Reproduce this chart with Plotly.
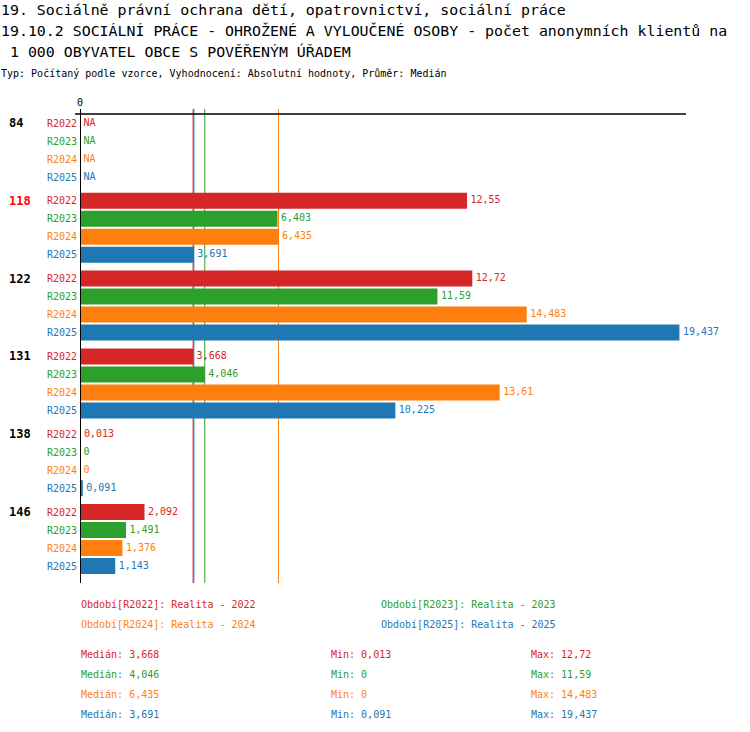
import plotly.graph_objects as go

groups = ["84", "118", "122", "131", "138", "146"]
group_colors = ["#000000", "#ff0000", "#000000", "#000000", "#000000", "#000000"]
periods = ["R2022", "R2023", "R2024", "R2025"]
period_names = ["Realita - 2022", "Realita - 2023", "Realita - 2024", "Realita - 2025"]
colors = ["#d62728", "#2ca02c", "#ff7f0e", "#1f77b4"]

# one value per group, None = NA
r2022 = [None, 12.55, 12.72, 3.668, 0.013, 2.092]
r2023 = [None, 6.403, 11.59, 4.046, 0, 1.491]
r2024 = [None, 6.435, 14.483, 13.61, 0, 1.376]
r2025 = [None, 3.691, 19.437, 10.225, 0.091, 1.143]
series = [r2022, r2023, r2024, r2025]

medians = [3.668, 4.046, 6.435, 3.691]
mins = [0.013, 0, 0, 0.091]
maxs = [12.72, 11.59, 14.483, 19.437]

title_lines = [
    "19. Sociálně právní ochrana dětí, opatrovnictví, sociální práce",
    "19.10.2 SOCIÁLNÍ PRÁCE - OHROŽENÉ A VYLOUČENÉ OSOBY - počet anonymních klientů na",
    " 1 000 OBYVATEL OBCE S POVĚŘENÝM ÚŘADEM",
]
subtitle = "Typ: Počítaný podle vzorce, Vyhodnocení: Absolutní hodnoty, Průměr: Medián"

# page geometry (pixels)
W, H = 750, 732
L, R, T, B = 80, 686, 109, 583
ROW = 18.0
FIRST = 14 / ROW
GSTEP = 77.8 / ROW
MONO = "DejaVu Sans Mono"


def px(x):
    return (x - L) / (R - L)


def py(y):
    return (B - y) / (B - T)


def fmt(v):
    return f"{v:g}".replace(".", ",")


def row_y(g, p):
    return FIRST + g * GSTEP + p


fig = go.Figure()

for p, vals in enumerate(series):
    ys = [row_y(g, p) for g in range(len(groups))]
    fig.add_trace(go.Bar(
        x=vals, y=ys, orientation="h", width=16 / ROW,
        marker=dict(color=colors[p], line=dict(width=0)),
        hoverinfo="skip",
    ))
    # invisible markers only push the value text a few px off the bar end
    fig.add_trace(go.Scatter(
        x=[v if v is not None else 0 for v in vals], y=ys,
        mode="markers+text", marker=dict(size=4, opacity=0),
        text=[fmt(v) if v is not None else "NA" for v in vals],
        textposition="middle right",
        textfont=dict(family=MONO, size=10, color=colors[p]),
        cliponaxis=False, hoverinfo="skip",
    ))

# period labels left of the axis, group labels further left
for g, name in enumerate(groups):
    fig.add_annotation(x=px(7), y=row_y(g, 0), xref="paper", yref="y",
                       text=f"<b>{name}</b>", showarrow=False, xanchor="left",
                       font=dict(family=MONO, size=12, color=group_colors[g]))
    for p, per in enumerate(periods):
        fig.add_annotation(x=0, y=row_y(g, p), xref="x", yref="y", text=per,
                           showarrow=False, xanchor="right", xshift=-1,
                           font=dict(family=MONO, size=10, color=colors[p]))

# median lines, drawn under the bars
for p, m in enumerate(medians):
    fig.add_shape(type="line", xref="x", yref="paper", x0=m, x1=m, y0=0, y1=1,
                  line=dict(color=colors[p], width=1), layer="below")

# axis lines
fig.add_shape(type="line", xref="paper", yref="paper", x0=px(75), x1=1,
              y0=py(114), y1=py(114), line=dict(color="black", width=1.5))
fig.add_shape(type="line", xref="x", yref="paper", x0=0, x1=0, y0=0, y1=1,
              line=dict(color="black", width=2), layer="above")

# title
for i, line in enumerate(title_lines):
    fig.add_annotation(x=px(-1), y=py(9.5 + 21.5 * i), xref="paper", yref="paper",
                       text=line, showarrow=False, xanchor="left", yanchor="middle",
                       font=dict(family=MONO, size=14.9, color="black"))
fig.add_annotation(x=px(-1), y=py(73), xref="paper", yref="paper", text=subtitle,
                   showarrow=False, xanchor="left", yanchor="middle",
                   font=dict(family=MONO, size=10, color="black"))

# legend texts
leg_pos = [(79, 604), (379, 604), (79, 624), (379, 624)]
for p, per in enumerate(periods):
    x0, y0 = leg_pos[p]
    fig.add_annotation(x=px(x0), y=py(y0), xref="paper", yref="paper",
                       text=f"Období[{per}]: {period_names[p]}", showarrow=False,
                       xanchor="left", yanchor="middle",
                       font=dict(family=MONO, size=10, color=colors[p]))

# statistics
for p in range(len(periods)):
    yy = py(654 + 20 * p)
    for x0, txt in [(79, f"Medián: {fmt(medians[p])}"), (329, f"Min: {fmt(mins[p])}"),
                    (529, f"Max: {fmt(maxs[p])}")]:
        fig.add_annotation(x=px(x0), y=yy, xref="paper", yref="paper", text=txt,
                           showarrow=False, xanchor="left", yanchor="middle",
                           font=dict(family=MONO, size=10, color=colors[p]))

fig.update_layout(
    width=W, height=H,
    margin=dict(l=L, r=W - R, t=T, b=H - B, autoexpand=False),
    barmode="overlay", showlegend=False,
    plot_bgcolor="white", paper_bgcolor="white",
    font=dict(family=MONO, size=10, color="black"),
    xaxis=dict(range=[0, 19.65], side="top", tickvals=[0], ticktext=["0"],
               showgrid=False, zeroline=False, showline=False, ticks="",
               tickfont=dict(family=MONO, size=10, color="black")),
    yaxis=dict(range=[(B - T) / ROW, 0], visible=False),
)

fig.write_html("out.html", config={"displayModeBar": False},
               post_script="document.body.style.margin='0';"
                           "document.body.style.overflow='hidden';")
